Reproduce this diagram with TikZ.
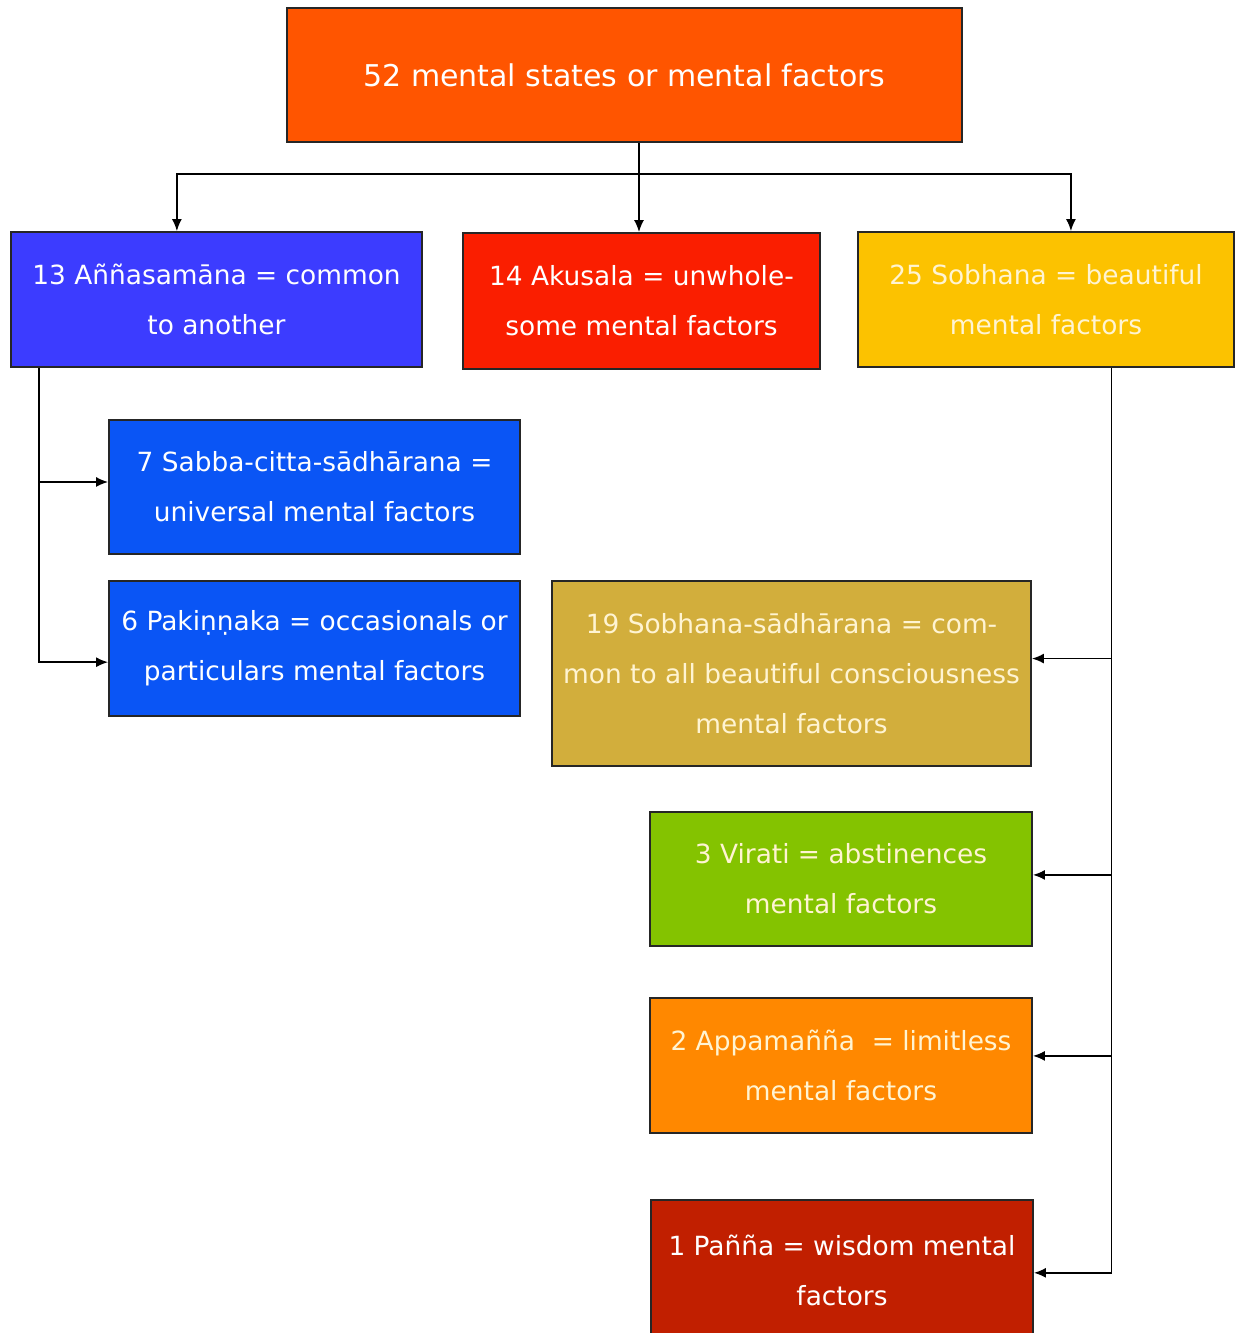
\documentclass[tikz,border=0pt]{standalone}
\usepackage{fontspec}
\setmainfont{DejaVu Sans}
\usetikzlibrary{arrows.meta,calc}

\definecolor{topred}{HTML}{FF5500}
\definecolor{annablue}{HTML}{3C3CFF}
\definecolor{akured}{HTML}{FA1E00}
\definecolor{sobyellow}{HTML}{FCC200}
\definecolor{sabblue}{HTML}{0A55F5}
\definecolor{sadgold}{HTML}{D2AE3C}
\definecolor{virgreen}{HTML}{84C300}
\definecolor{appaorange}{HTML}{FF8800}
\definecolor{pandark}{HTML}{C11F00}
\definecolor{cream}{HTML}{FFF4D2}

\tikzset{
  factor/.style={draw=black!85, line width=0.9pt, text=white, align=center,
    inner sep=0pt, font=\fontsize{13.2}{25}\selectfont},
  link/.style={line width=0.8pt, -{Latex[length=6pt,width=5pt]}}
}

\begin{document}
\begin{tikzpicture}[x=0.5pt, y=-0.5pt]
            \useasboundingbox (0,0) rectangle (1235,1333);
            \node[factor, fill=topred, minimum width=337.5pt, minimum height=67pt,
                  font=\fontsize{15}{25}\selectfont] (top) at (624.5,75) {52 mental states or mental factors};
            \node[factor, fill=annablue, minimum width=205.5pt, minimum height=67.5pt] (anna) at (216.5,299.5) {13 Aññasamāna = common\\to another};
            \node[factor, fill=akured, minimum width=178.5pt, minimum height=68pt] (akusala) at (641.5,301) {14 Akusala = unwhole-\\some mental factors};
            \node[factor, fill=sobyellow, minimum width=188pt, minimum height=67.5pt, text=cream] (sobhana) at (1046,299.5) {25 Sobhana = beautiful\\mental factors};
            \node[factor, fill=sabblue, minimum width=205.5pt, minimum height=67pt] (sabba) at (314.5,487) {7 Sabba-citta-sādhārana =\\universal mental factors};
            \node[factor, fill=sabblue, minimum width=205.5pt, minimum height=67.5pt] (pakinnaka) at (314.5,648.5) {6 Pakiṇṇaka = occasionals or\\particulars mental factors};
            \node[factor, fill=sadgold, minimum width=239.5pt, minimum height=92.5pt, text=cream] (sadharana) at (791.5,673.5) {19 Sobhana-sādhārana = com-\\mon to all beautiful consciousness\\mental factors};
            \node[factor, fill=virgreen, minimum width=191pt, minimum height=67pt, text=cream] (virati) at (841,879) {3 Virati = abstinences\\mental factors};
            \node[factor, fill=appaorange, minimum width=191pt, minimum height=67.5pt, text=cream] (appamanna) at (841,1065.5) {2 Appamañña \ = limitless\\mental factors};
            \node[factor, fill=pandark, minimum width=191pt, minimum height=70pt] (panna) at (842,1270) {1 Pañña = wisdom mental\\factors};
            % top split
            \coordinate (akutop) at ($(akusala.north west)!0.493!(akusala.north east)$);
            \coordinate (split) at ($(akutop |- top.south)+(0,31)$);
            \draw[link] (akutop |- top.south) -- (akutop);
            \draw[link] (split) -| ($(anna.north west)!0.404!(anna.north east)$);
            \draw[link] (split) -| ($(sobhana.north west)!0.566!(sobhana.north east)$);
            % left trunk
            \coordinate (lefttrunk) at ($(anna.south west)!0.07!(anna.south east)$);
            \coordinate (sabbain) at ($(sabba.north west)!0.463!(sabba.south west)$);
            \coordinate (pakin) at ($(pakinnaka.north west)!0.6!(pakinnaka.south west)$);
            \draw[link] (lefttrunk) |- (pakin);
            \draw[link] (lefttrunk |- sabbain) -- (sabbain);
            % right trunk
            \coordinate (righttrunk) at ($(sobhana.south west)!0.673!(sobhana.south east)$);
            \coordinate (sadin) at ($(sadharana.north east)!0.42!(sadharana.south east)$);
            \coordinate (virin) at ($(virati.north east)!0.47!(virati.south east)$);
            \coordinate (appin) at ($(appamanna.north east)!0.43!(appamanna.south east)$);
            \coordinate (panin) at ($(panna.north east)!0.52!(panna.south east)$);
            \draw[link] (righttrunk) |- (panin);
            \draw[link] (righttrunk |- sadin) -- (sadin);
            \draw[link] (righttrunk |- virin) -- (virin);
            \draw[link] (righttrunk |- appin) -- (appin);
        \end{tikzpicture}
\end{document}
